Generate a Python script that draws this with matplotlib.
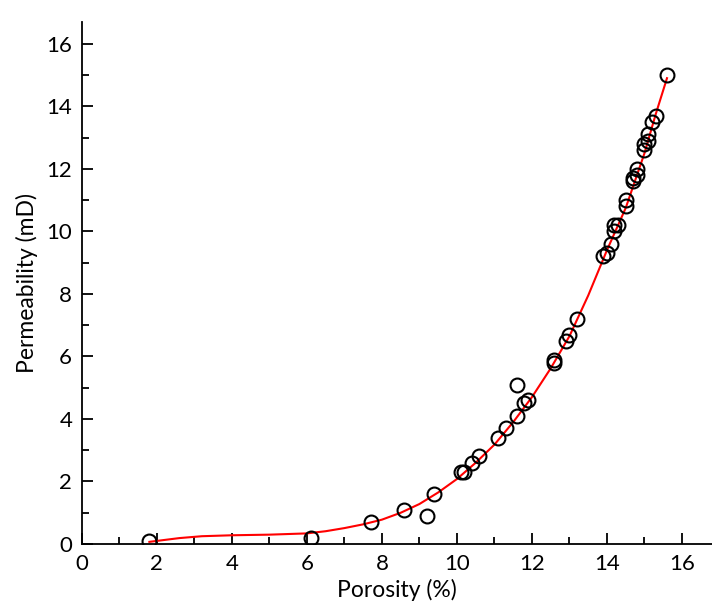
import numpy as np
import matplotlib
matplotlib.use('Agg')
import matplotlib.pyplot as plt

# measured samples
porosity = [1.8, 6.1, 7.7, 8.6, 9.2, 9.4, 10.1, 10.2, 10.4, 10.6,
            11.1, 11.3, 11.6, 11.6, 11.8, 11.9, 12.6, 12.6, 12.9, 13.0,
            13.2, 13.9, 14.0, 14.1, 14.2, 14.2, 14.3, 14.5, 14.5, 14.7,
            14.7, 14.8, 14.8, 15.0, 15.0, 15.1, 15.1, 15.2, 15.3, 15.6]
permeability = [0.1, 0.2, 0.7, 1.1, 0.9, 1.6, 2.3, 2.3, 2.6, 2.8,
                3.4, 3.7, 5.1, 4.1, 4.5, 4.6, 5.9, 5.8, 6.5, 6.7,
                7.2, 9.2, 9.3, 9.6, 10.0, 10.2, 10.2, 10.8, 11.0, 11.6,
                11.7, 12.0, 11.8, 12.6, 12.8, 13.1, 12.9, 13.5, 13.7, 15.0]

# fitted curve
fit_x = [1.8, 2.2, 2.6, 3.2, 4.0, 5.0, 6.0, 6.5, 7.0, 7.5, 8.0, 8.5, 9.0, 9.5,
         10.0, 10.5, 11.0, 11.5, 12.0, 12.5, 13.0, 13.5, 14.0, 14.5, 15.0, 15.3, 15.6]
fit_y = [0.07, 0.13, 0.19, 0.25, 0.28, 0.30, 0.34, 0.41, 0.51, 0.63, 0.78, 1.0, 1.28, 1.65,
         2.08, 2.6, 3.18, 3.9, 4.7, 5.62, 6.65, 7.95, 9.4, 10.75, 12.5, 13.75, 14.9]

plt.rcParams['font.family'] = ['Lato', 'DejaVu Sans']

fig = plt.figure(figsize=(7.12, 6.15), dpi=100)
ax = fig.add_axes([0.115, 0.1154, 0.885, 0.849])

ax.plot(fit_x, fit_y, color='red', linewidth=1.5, zorder=2)
ax.plot(porosity, permeability, 'o', markersize=10, markerfacecolor='none',
        markeredgecolor='black', markeredgewidth=1.5, zorder=3)

ax.set_xlim(0, 16.8)
ax.set_ylim(0, 16.7)
ax.set_xticks(np.arange(0, 17, 2))
ax.set_xticks(np.arange(1, 17, 2), minor=True)
ax.set_yticks(np.arange(0, 17, 2))
ax.set_yticks(np.arange(1, 17, 2), minor=True)

ax.spines['top'].set_visible(False)
ax.spines['right'].set_visible(False)
for s in ['left', 'bottom']:
    ax.spines[s].set_linewidth(1.3)
ax.tick_params(which='major', direction='in', length=8, width=1.3, labelsize=16, pad=7)
ax.tick_params(which='minor', direction='in', length=5, width=1.3)

ax.set_xlabel('Porosity (%)', fontsize=16.5, labelpad=4)
ax.set_ylabel('Permeability (mD)', fontsize=16.5, labelpad=6)

fig.savefig('out.png', dpi=100)
